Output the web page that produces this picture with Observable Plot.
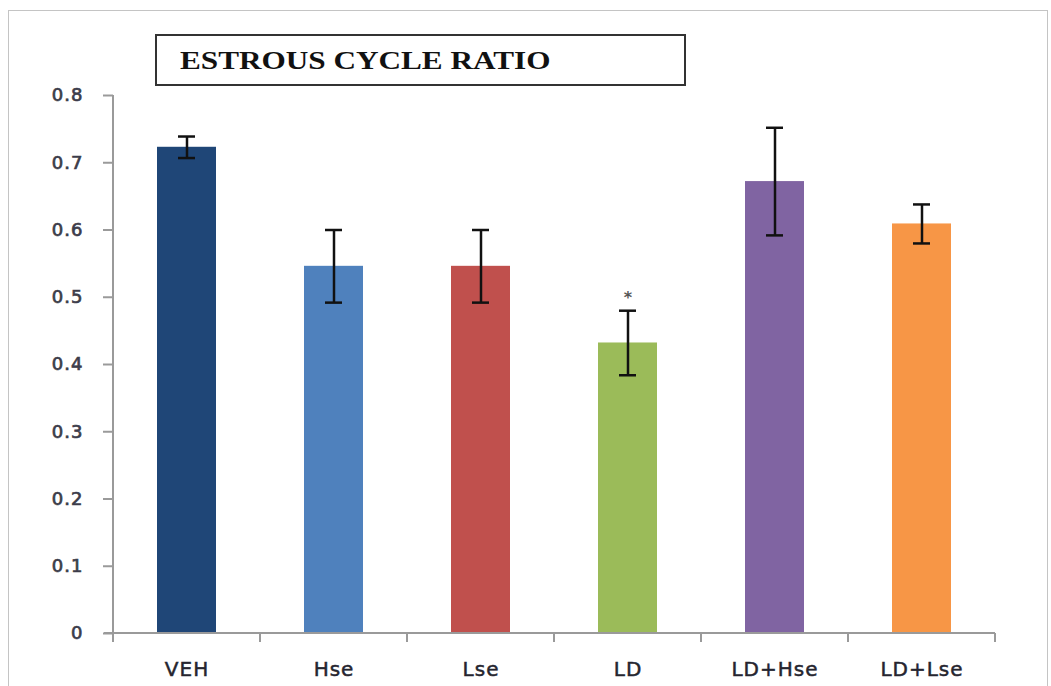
<!DOCTYPE html>
<html>
<head>
<meta charset="utf-8">
<script src="https://cdn.jsdelivr.net/npm/d3@7"></script>
<script src="https://cdn.jsdelivr.net/npm/@observablehq/plot@0.6"></script>
<style>
  html, body { margin: 0; padding: 0; background: #fff; }
  #wrap { position: relative; width: 1051px; height: 686px; overflow: hidden; background: #fff; }
  #frame { position: absolute; left: 8px; top: 10px; width: 1040px; height: 700px;
           border: 1.5px solid #c4c4c4; box-sizing: border-box; }
  #titlebox { position: absolute; left: 155px; top: 34px; width: 531px; height: 52px;
              border: 2px solid #333; box-sizing: border-box; background: #fff; z-index: 2; }
  #title { position: absolute; left: 23px; top: 12px; margin: 0;
           font-family: "Liberation Serif", "Times New Roman", serif; font-weight: bold;
           font-size: 26px; line-height: 26px; color: #111; white-space: nowrap;
           transform: scaleX(1.2); transform-origin: left center; }
  #chart { position: absolute; left: 0; top: 0; }
</style>
</head>
<body>
<div id="wrap">
  <div id="frame"></div>
  <div id="chart"></div>
  <div id="titlebox"><div id="title">ESTROUS CYCLE RATIO</div></div>
</div>
<script>
// ---- data ----
const groups = ["VEH", "Hse", "Lse", "LD", "LD+Hse", "LD+Lse"];
const means  = [0.723, 0.546, 0.546, 0.432, 0.672, 0.609];
const errors = [0.016, 0.054, 0.054, 0.048, 0.080, 0.029];
const marks  = ["", "", "", "*", "", ""];
const colors = ["#1F4677", "#4F81BD", "#C0504D", "#9BBB59", "#8064A2", "#F79646"];
const yTicks = [0, 0.1, 0.2, 0.3, 0.4, 0.5, 0.6, 0.7, 0.8];

const data = groups.map((g, i) => ({
  group: g, mean: means[i], lo: means[i] - errors[i], hi: means[i] + errors[i], mark: marks[i]
}));

const axisColor = "#9a9a9a";

// axis lines and boundary ticks, derived from the plot dimensions
function axisLines(index, scales, values, dims) {
  const g = d3.create("svg:g");
  const left = dims.marginLeft, right = dims.width - dims.marginRight;
  const top = dims.marginTop, bottom = dims.height - dims.marginBottom;
  const tick = 9;
  g.append("line").attr("x1", left).attr("x2", left).attr("y1", top).attr("y2", bottom + tick)
    .attr("stroke", axisColor).attr("stroke-width", 2);
  g.append("line").attr("x1", left - tick).attr("x2", right).attr("y1", bottom).attr("y2", bottom)
    .attr("stroke", axisColor).attr("stroke-width", 2);
  const n = groups.length, step = (right - left) / n;
  for (let i = 0; i <= n; i++) {
    const x = left + i * step;
    g.append("line").attr("x1", x).attr("x2", x).attr("y1", bottom).attr("y2", bottom + tick)
      .attr("stroke", axisColor).attr("stroke-width", 2);
  }
  return g.node();
}

const chart = Plot.plot({
  width: 1051,
  height: 686,
  marginLeft: 113,
  marginRight: 56,
  marginTop: 95,
  marginBottom: 53,
  style: { background: "transparent", overflow: "visible" },
  x: { domain: groups, paddingInner: 0.6, paddingOuter: 0.3, label: null },
  y: { domain: [0, 0.8], label: null },
  color: { domain: groups, range: colors },
  marks: [
    Plot.barY(data, { x: "group", y: "mean", fill: "group" }),
    Plot.ruleX(data, { x: "group", y1: "lo", y2: "hi", stroke: "#111", strokeWidth: 2.5 }),
    Plot.tickY(data, { x: "group", y: "hi", stroke: "#111", strokeWidth: 2.5, insetLeft: 21, insetRight: 21 }),
    Plot.tickY(data, { x: "group", y: "lo", stroke: "#111", strokeWidth: 2.5, insetLeft: 21, insetRight: 21 }),
    Plot.text(data, { x: "group", y: "hi", text: "mark", dy: -13, lineAnchor: "middle",
                      fontSize: 16, fill: "#555", fontWeight: "bold" }),
    Plot.axisY({ ticks: yTicks, tickSize: 10, tickPadding: 20, stroke: axisColor, strokeWidth: 2,
                 tickFormat: d => String(+d.toFixed(1)), fontSize: 18, fill: "#3c3c4a", label: null }),
    Plot.axisX({ tickSize: 0, tickPadding: 28, fontSize: 20, fill: "#25252f", label: null }),
    axisLines
  ]
});
chart.style.fontFamily = "'DejaVu Sans', Verdana, sans-serif";
d3.select(chart).selectAll("[aria-label='x-axis tick label'] text")
  .style("letter-spacing", "1px").style("stroke", "#25252f").style("stroke-width", "0.5px");
d3.select(chart).selectAll("[aria-label='y-axis tick label'] text")
  .style("letter-spacing", "1px").style("stroke", "#3c3c4a").style("stroke-width", "0.7px");
document.getElementById("chart").appendChild(chart);
</script>
</body>
</html>
